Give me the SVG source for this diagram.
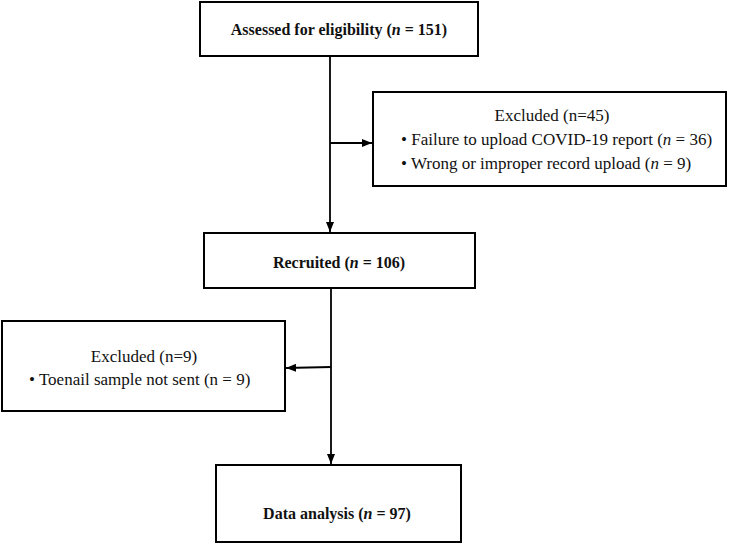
<svg xmlns="http://www.w3.org/2000/svg" width="733" height="545" viewBox="0 0 733 545">
<style>
.box{fill:#fff;stroke:#000;stroke-width:2}
.t{font-family:"Liberation Serif","DejaVu Serif",serif;font-size:17px;fill:#111}
.b{font-weight:bold;font-size:16px}
.c{stroke:#000;stroke-width:1.8;fill:none}
</style>
<defs>
<marker id="ah" viewBox="0 0 10 8" refX="10" refY="4" markerWidth="10" markerHeight="8" orient="auto" markerUnits="userSpaceOnUse">
<path d="M0,0 L10,4 L0,8 z" fill="#000"/>
</marker>
</defs>
<rect width="733" height="545" fill="#fff"/>
<g id="connectors">
<line class="c" x1="330" y1="56" x2="330" y2="232" marker-end="url(#ah)"/>
<line class="c" x1="330" y1="143" x2="372" y2="143" marker-end="url(#ah)"/>
<line class="c" x1="331" y1="288" x2="331" y2="464" marker-end="url(#ah)"/>
<line class="c" x1="331" y1="367" x2="286" y2="368" marker-end="url(#ah)"/>
</g>
<g id="assessed">
<rect class="box" x="200" y="2" width="278" height="54"/>
<text class="t b" x="339" y="35" text-anchor="middle">Assessed for eligibility (<tspan font-style="italic">n</tspan> = 151)</text>
</g>
<g id="excluded1">
<rect class="box" x="373" y="92" width="353" height="94"/>
<text class="t" x="552" y="121" text-anchor="middle">Excluded (n=45)</text>
<text class="t" x="401" y="145">• Failure to upload COVID-19 report (<tspan font-style="italic">n</tspan> = 36)</text>
<text class="t" x="401" y="169">• Wrong or improper record upload (<tspan font-style="italic">n</tspan> = 9)</text>
</g>
<g id="recruited">
<rect class="box" x="204" y="233" width="271" height="55"/>
<text class="t b" x="339" y="268" text-anchor="middle">Recruited (<tspan font-style="italic">n</tspan> = 106)</text>
</g>
<g id="excluded2">
<rect class="box" x="2" y="321" width="283" height="90"/>
<text class="t" x="144" y="362" text-anchor="middle">Excluded (n=9)</text>
<text class="t" x="29" y="385">• Toenail sample not sent (n = 9)</text>
</g>
<g id="analysis">
<rect class="box" x="216" y="465" width="245" height="77"/>
<text class="t b" x="337" y="519" text-anchor="middle">Data analysis (<tspan font-style="italic">n</tspan> = 97)</text>
</g>
</svg>
